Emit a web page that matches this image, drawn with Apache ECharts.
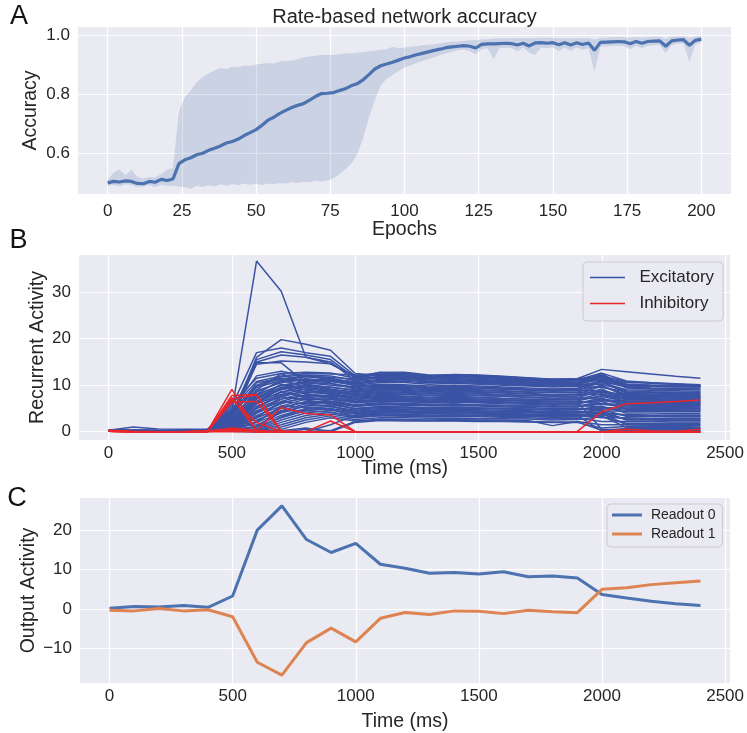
<!DOCTYPE html>
<html><head><meta charset="utf-8">
<script src="https://cdn.jsdelivr.net/npm/echarts@6/dist/echarts.min.js"></script>
<style>html,body{margin:0;padding:0;background:#fff}#c{width:747px;height:733px}</style>
</head><body><div id="c"></div>
<script>
// ---------- Panel A data (epochs, mean accuracy, band) ----------
const epochs = [0,2,4,6,8,10,12,14,16,18,20,22,24,26,28,30,32,34,36,38,40,42,44,46,48,50,52,54,56,58,60,62,64,66,68,70,72,74,76,78,80,82,84,86,88,90,92,94,96,98,100,102,104,106,108,110,112,114,116,118,120,122,124,126,128,130,132,134,136,138,140,142,144,146,148,150,152,154,156,158,160,162,164,166,168,170,172,174,176,178,180,182,184,186,188,190,192,194,196,198,200];
const accMean = [0.500,0.505,0.503,0.507,0.505,0.498,0.497,0.505,0.502,0.512,0.508,0.513,
  0.565,0.578,0.585,0.595,0.600,0.610,0.617,0.625,0.635,0.640,0.648,0.660,0.670,
  0.680,0.695,0.712,0.722,0.735,0.745,0.755,0.762,0.768,0.780,0.792,0.802,0.803,
  0.805,0.812,0.818,0.828,0.835,0.848,0.866,0.885,0.896,0.902,0.908,0.915,0.922,
  0.927,0.933,0.938,0.943,0.948,0.952,0.957,0.960,0.962,0.964,0.962,0.956,
  0.968,0.970,0.970,0.971,0.972,0.971,0.966,0.972,0.963,0.973,0.974,0.972,0.974,
  0.967,0.974,0.966,0.974,0.968,0.973,0.948,0.975,0.976,0.977,0.978,0.977,0.970,
  0.978,0.972,0.978,0.979,0.980,0.962,0.980,0.983,0.984,0.965,0.982,0.986];
const accHigh = [0.510,0.535,0.545,0.525,0.545,0.520,0.515,0.520,0.518,0.530,0.545,0.550,
  0.740,0.790,0.812,0.840,0.858,0.870,0.880,0.888,0.885,0.893,0.892,0.897,0.895,
  0.900,0.903,0.905,0.904,0.910,0.912,0.913,0.918,0.925,0.927,0.930,0.932,0.933,
  0.932,0.935,0.937,0.938,0.940,0.942,0.945,0.947,0.950,0.952,0.960,0.955,0.958,
  0.960,0.962,0.965,0.967,0.968,0.972,0.975,0.978,0.978,0.980,0.982,0.983,
  0.985,0.986,0.988,0.988,0.990,0.988,0.990,0.990,0.989,0.990,0.991,0.990,0.991,
  0.988,0.990,0.987,0.990,0.989,0.990,0.985,0.990,0.991,0.992,0.993,0.992,0.990,
  0.993,0.991,0.993,0.994,0.994,0.987,0.995,0.995,0.996,0.990,0.995,0.996];
const accLow = [0.490,0.493,0.488,0.495,0.492,0.485,0.488,0.492,0.486,0.494,0.490,0.490,
  0.488,0.485,0.480,0.490,0.486,0.492,0.488,0.495,0.490,0.496,0.492,0.498,0.494,
  0.497,0.493,0.498,0.495,0.500,0.497,0.502,0.500,0.504,0.502,0.507,0.505,0.508,
  0.515,0.528,0.545,0.565,0.595,0.650,0.720,0.780,0.830,0.852,0.865,0.878,0.890,
  0.897,0.905,0.912,0.918,0.925,0.932,0.937,0.943,0.948,0.951,0.945,0.935,
  0.952,0.955,0.918,0.955,0.957,0.956,0.945,0.958,0.940,0.932,0.958,0.955,0.958,
  0.945,0.958,0.946,0.958,0.950,0.955,0.876,0.960,0.962,0.963,0.964,0.962,0.952,
  0.964,0.955,0.964,0.965,0.966,0.938,0.966,0.970,0.971,0.910,0.968,0.975];

// ---------- Panel B / C time base ----------
const timeMs = [0,100,200,300,400,500,600,700,800,900,1000,1100,1200,1300,1400,1500,1600,1700,1800,1900,2000,2100,2200,2300,2400];

// ---------- Panel B: excitatory units ----------
const excitatory = [
 [0.2,0.3,0.2,0.2,0.3,4.5,36.7,30.2,16.0,14.6,11.8,12.4,12.6,12.0,12.3,12.2,11.9,11.6,11.3,11.4,13.4,12.9,12.4,11.9,11.5],
 [0.1,0.2,0.1,0.1,0.2,3.0,16.0,19.8,18.8,17.5,12.5,12.1,12.3,12.0,12.1,11.9,11.6,11.3,11.0,11.1,12.6,10.9,10.5,10.3,10.1],
 [0.3,0.2,0.2,0.2,0.4,5.5,17.0,18.0,17.0,16.2,12.0,12.7,12.8,12.2,12.2,12.0,11.8,11.5,11.3,11.3,11.6,10.6,10.4,10.2,10.0],
 [0.2,0.1,0.1,0.2,0.3,4.0,15.5,17.2,16.5,15.5,11.5,12.3,12.0,11.6,11.8,11.6,11.2,10.9,10.8,10.6,12.0,10.8,10.5,10.2,9.9],
 [0.2,0.2,0.1,0.1,0.2,3.5,15.0,16.5,16.0,15.0,11.0,11.8,11.6,11.3,11.2,11.0,10.8,10.5,10.3,10.2,11.2,10.0,9.9,9.8,9.7],
 [0.1,0.1,0.1,0.1,0.2,2.5,14.8,14.8,10.5,11.0,10.2,11.0,11.2,10.8,10.9,10.6,10.4,10.1,9.9,9.8,10.8,9.6,9.4,9.3,9.2],
 [0.2,0.2,0.2,0.1,0.2,3.0,14.5,15.2,15.0,14.6,12.0,11.4,11.5,11.1,11.3,11.1,10.9,10.7,10.5,10.5,11.4,10.2,10.0,9.9,9.8],
 [0.3,0.4,0.3,0.2,0.4,6.0,11.5,12.5,12.8,12.6,11.5,12.8,12.7,12.0,12.2,12.1,11.8,11.5,11.2,11.4,11.8,10.2,10.0,10.0,10.0],
 [0.2,0.3,0.2,0.2,0.3,5.0,10.8,12.0,12.5,12.4,12.2,12.3,12.2,11.8,11.9,11.7,11.5,11.1,10.9,11.0,11.0,9.8,9.7,9.6,9.6],
 [0.3,0.2,0.2,0.1,0.3,4.5,10.0,11.8,12.2,12.0,11.0,11.6,11.7,11.2,11.4,11.2,11.0,10.6,10.4,10.5,12.5,9.5,9.3,9.2,9.1],
 [0.2,0.2,0.1,0.1,0.2,3.8,9.5,11.0,11.8,11.5,10.5,11.0,11.2,10.8,10.9,10.7,10.5,10.2,10.0,10.1,10.5,9.0,8.9,8.8,8.7],
 [0.1,0.2,0.1,0.1,0.3,4.2,8.8,10.5,11.2,10.8,10.0,10.6,10.6,10.2,10.4,10.2,10.0,9.8,9.6,9.7,9.5,8.6,8.5,8.4,8.3],
 [0.3,1.0,0.6,0.5,0.5,3.5,8.0,10.0,10.8,11.5,9.8,10.2,10.1,9.8,10.0,9.8,9.6,9.4,9.2,9.3,11.0,8.2,8.1,8.0,8.0],
 [0.2,0.3,0.2,0.2,0.3,3.0,7.5,9.5,10.5,10.0,9.5,9.8,9.7,9.4,9.6,9.4,9.2,9.0,8.8,8.9,8.8,7.8,7.7,7.7,7.6],
 [0.2,0.2,0.1,0.1,0.2,2.8,7.0,9.0,10.2,9.5,9.0,9.4,9.3,9.0,9.2,9.0,8.8,8.6,8.4,8.5,10.0,7.5,7.4,7.3,7.3],
 [0.1,0.1,0.1,0.1,0.2,2.5,6.5,8.5,9.8,9.0,8.6,9.0,8.9,8.6,8.8,8.6,8.4,8.2,8.0,8.1,8.0,7.2,7.1,7.0,7.0],
 [0.3,0.3,0.2,0.2,0.3,2.2,6.0,8.0,9.2,8.8,8.2,8.6,8.5,8.2,8.4,8.2,8.0,7.8,7.6,7.7,9.2,6.8,6.8,6.7,6.7],
 [0.2,0.2,0.2,0.1,0.2,2.0,5.5,7.5,8.8,8.5,7.8,8.2,8.1,7.8,8.0,7.8,7.6,7.4,7.2,7.3,7.0,6.5,6.4,6.4,6.3],
 [0.1,0.2,0.1,0.1,0.2,1.8,5.0,7.0,8.4,8.2,7.4,7.8,7.7,7.4,7.6,7.4,7.2,7.0,6.8,6.9,8.2,6.2,6.1,6.1,6.0],
 [0.3,0.2,0.2,0.1,0.3,1.5,4.5,6.5,8.0,7.8,7.0,7.4,7.3,7.0,7.2,7.0,6.8,6.6,6.5,6.5,6.0,5.8,5.8,5.7,5.7],
 [0.2,0.2,0.1,0.1,0.2,1.2,4.0,6.0,7.5,7.4,6.6,7.0,6.9,6.6,6.8,6.6,6.4,6.2,6.1,6.1,7.2,5.5,5.4,5.4,5.3],
 [0.1,0.1,0.1,0.1,0.2,1.0,3.5,5.5,7.0,7.0,6.2,6.6,6.5,6.2,6.4,6.2,6.0,5.9,5.7,5.8,5.2,5.1,5.1,5.0,5.0],
 [0.2,0.2,0.1,0.1,0.2,0.8,3.0,5.0,6.5,6.6,5.8,6.2,6.1,5.9,6.0,5.8,5.7,5.5,5.4,5.4,6.5,4.8,4.7,4.7,4.6],
 [0.3,0.3,0.2,0.2,0.3,2.0,2.5,4.5,6.0,6.2,5.4,5.8,5.7,5.5,5.6,5.5,5.3,5.2,5.0,5.1,4.5,4.4,4.4,4.3,4.3],
 [0.2,0.2,0.1,0.1,0.2,1.5,2.0,4.0,5.5,5.8,5.0,5.4,5.3,5.1,5.2,5.1,5.0,4.8,4.7,4.7,5.5,4.0,4.0,3.9,3.9],
 [0.1,0.1,0.1,0.1,0.1,1.0,1.5,3.5,5.0,5.4,4.6,5.0,4.9,4.7,4.8,4.7,4.6,4.5,4.3,4.4,3.8,3.7,3.6,3.6,3.6],
 [0.2,0.2,0.1,0.1,0.2,0.5,1.0,3.0,4.5,5.0,4.2,4.6,4.5,4.3,4.4,4.3,4.2,4.1,4.0,4.0,4.8,3.3,3.3,3.2,3.2],
 [0.1,0.1,0.1,0.0,0.1,0.3,0.5,2.5,4.0,4.6,3.8,4.2,4.1,4.0,4.0,3.9,3.8,3.7,3.6,3.6,3.0,3.0,2.9,2.9,2.9],
 [0.2,0.2,0.1,0.1,0.2,0.4,0.3,2.0,3.5,4.2,3.4,3.8,3.7,3.6,3.6,3.5,3.5,3.4,3.2,3.3,4.0,2.6,2.6,2.5,2.5],
 [0.1,0.1,0.0,0.0,0.1,0.2,0.2,1.5,3.0,3.8,3.0,3.4,3.3,3.2,3.2,3.2,3.1,3.0,2.8,2.9,2.2,2.2,2.2,2.1,2.1],
 [0.2,0.1,0.1,0.1,0.2,0.3,0.1,1.0,2.5,3.4,2.6,3.0,3.0,2.9,2.9,2.8,2.8,2.7,2.5,2.6,3.2,1.8,1.8,1.8,1.8],
 [0.1,0.1,0.0,0.0,0.1,0.2,0.0,0.5,2.0,3.0,2.3,2.7,2.6,2.5,2.6,2.5,2.5,2.4,1.3,2.2,1.5,1.5,1.4,1.4,1.4],
 [0.1,0.1,0.0,0.0,0.1,0.1,0.0,0.2,0.8,0.0,2.0,2.4,2.3,2.3,2.3,2.2,2.2,2.1,2.0,2.0,0.8,1.1,1.1,1.1,1.0],
 [0.1,0.1,0.0,0.0,0.1,0.1,0.0,0.0,0.5,0.2,2.2,2.5,2.5,2.4,2.4,2.4,2.3,2.2,2.1,2.1,0.3,0.7,0.7,0.7,0.7],
 [0.1,0.1,0.0,0.0,0.1,0.6,0.2,0.0,0.0,1.5,3.5,4.0,4.0,3.9,3.8,3.8,3.7,3.6,3.5,3.5,0.1,0.4,0.4,0.4,0.4],
 [0.2,0.2,0.1,0.1,0.2,1.8,6.5,9.2,9.6,8.5,6.5,6.8,6.9,6.8,6.9,6.8,6.7,6.6,6.5,6.5,0.5,0.2,0.2,0.2,0.2],
 [0.2,0.3,0.2,0.2,0.3,4.8,12.0,13.0,12.0,11.2,10.8,11.2,11.1,10.8,10.9,10.8,10.6,10.4,10.2,10.3,11.8,9.9,9.8,9.7,9.6],
 [0.2,0.2,0.1,0.1,0.2,3.2,10.5,11.5,11.0,10.5,9.2,9.6,9.5,9.3,9.4,9.3,9.1,8.9,8.7,8.8,10.8,8.4,8.3,8.2,8.2],
 [0.1,0.2,0.1,0.1,0.2,2.6,9.0,12.5,10.2,9.2,8.4,8.8,8.7,8.5,8.6,8.5,8.3,8.1,7.9,8.0,9.8,7.9,7.8,7.7,7.7],
 [0.2,0.2,0.1,0.1,0.2,2.0,8.0,11.2,9.5,8.8,7.6,8.0,8.0,7.8,7.9,7.8,7.6,7.4,7.2,7.3,8.8,7.4,7.3,7.2,7.2],
 [0.1,0.1,0.1,0.1,0.2,1.6,7.0,10.2,9.0,8.0,6.9,7.2,7.2,7.0,7.1,7.0,6.8,6.7,6.5,6.6,7.8,6.9,6.8,6.7,6.7],
 [0.2,0.2,0.1,0.1,0.2,1.2,6.0,9.6,8.2,7.2,6.2,6.5,6.5,6.3,6.4,6.3,6.2,6.1,5.9,6.0,6.8,6.3,6.2,6.2,6.1],
 [0.1,0.1,0.1,0.1,0.1,0.8,5.0,8.5,7.5,6.5,5.6,5.9,5.9,5.7,5.8,5.7,5.6,5.5,5.3,5.4,6.0,5.7,5.6,5.6,5.5],
 [0.1,0.1,0.1,0.0,0.1,0.5,4.0,7.5,6.8,6.0,5.0,5.3,5.3,5.1,5.2,5.1,5.0,4.9,4.8,4.8,5.2,5.0,5.0,4.9,4.9],
 [0.1,0.1,0.0,0.0,0.1,0.3,3.0,6.5,6.0,5.4,4.4,4.7,4.7,4.6,4.6,4.5,4.4,4.4,4.2,4.3,4.5,2.5,2.5,2.4,2.4],
 [0.1,0.1,0.0,0.0,0.1,0.2,2.0,5.5,5.2,4.8,3.8,4.1,4.1,4.0,4.0,3.9,3.9,3.8,3.7,3.7,3.9,1.5,1.5,1.5,1.5],
 [0.1,0.1,0.0,0.0,0.1,0.2,1.0,4.5,4.5,4.2,3.2,3.5,3.5,3.4,3.4,3.4,3.3,3.3,3.1,3.2,3.4,0.9,0.9,0.9,0.9],
 [0.2,0.2,0.1,0.1,0.2,3.6,9.8,11.4,11.9,11.7,11.3,11.9,11.8,11.5,11.6,11.5,11.3,11.0,10.8,10.9,12.2,9.4,9.2,9.1,9.0],
 [0.1,0.2,0.1,0.1,0.2,2.9,8.5,10.8,11.4,11.0,10.4,10.8,10.8,10.5,10.6,10.4,10.2,10.0,9.9,9.9,10.2,8.8,8.6,8.5,8.5],
 [0.2,0.1,0.1,0.1,0.2,2.4,7.8,10.0,10.6,10.3,9.6,10.0,9.9,9.6,9.7,9.6,9.4,9.2,9.1,9.1,9.8,8.0,7.9,7.8,7.8],
 [0.1,0.1,0.1,0.1,0.1,2.0,7.2,9.3,9.9,9.6,8.8,9.1,9.1,8.8,8.9,8.8,8.7,8.5,8.4,8.4,8.6,7.6,7.5,7.4,7.4],
 [0.2,0.2,0.1,0.1,0.2,1.6,6.2,8.6,9.2,8.9,8.0,8.4,8.3,8.1,8.2,8.1,7.9,7.8,7.7,7.7,8.5,7.0,6.9,6.8,6.8],
 [0.1,0.1,0.1,0.1,0.2,1.3,5.2,7.8,8.6,8.2,7.2,7.6,7.5,7.3,7.4,7.3,7.1,7.0,6.9,6.9,7.5,6.6,6.5,6.5,6.4],
 [0.2,0.2,0.1,0.1,0.2,1.0,4.2,7.0,7.8,7.6,6.4,6.8,6.7,6.5,6.6,6.5,6.4,6.3,6.1,6.2,6.7,6.0,5.9,5.9,5.8],
 [0.1,0.1,0.1,0.0,0.1,0.7,3.2,6.2,7.2,7.0,5.6,6.0,5.9,5.8,5.8,5.7,5.6,5.5,5.4,5.4,5.9,5.3,5.2,5.2,5.1],
 [0.1,0.1,0.0,0.0,0.1,0.4,2.2,5.2,6.4,6.3,4.8,5.2,5.1,5.0,5.0,5.0,4.9,4.8,4.6,4.7,5.0,4.6,4.5,4.5,4.5],
 [0.1,0.1,0.0,0.0,0.1,0.2,1.2,4.2,5.6,5.6,4.0,4.4,4.4,4.3,4.3,4.2,4.1,4.1,3.9,4.0,4.2,3.5,3.4,3.4,3.4],
 [0.1,0.1,0.0,0.0,0.1,0.1,0.6,3.2,4.8,5.0,3.2,3.6,3.6,3.5,3.5,3.5,3.4,3.3,3.2,3.2,3.6,2.8,2.7,2.7,2.7]
];
// ---------- Panel B: inhibitory units ----------
const inhibitory = [
 [0.2,0.0,0.0,0.0,0.0,9.1,0.1,0.0,0.0,0.0,0.0,0.0,0.0,0.0,0.0,0.0,0.0,0.0,0.0,0.0,0.0,0.0,0.0,0.0,0.0],
 [0.1,0.0,0.0,0.0,0.0,7.8,8.0,0.0,0.0,0.0,0.0,0.0,0.0,0.0,0.0,0.0,0.0,0.0,0.0,0.0,0.0,0.0,0.0,0.0,0.0],
 [0.1,0.0,0.0,0.0,0.0,7.0,7.9,0.1,0.0,0.0,0.0,0.0,0.0,0.0,0.0,0.0,0.0,0.0,0.0,0.0,0.0,0.0,0.0,0.0,0.0],
 [0.1,0.0,0.0,0.0,0.1,6.4,6.5,0.2,0.0,0.0,0.0,0.0,0.0,0.0,0.0,0.0,0.0,0.0,0.0,0.0,0.0,0.0,0.0,0.0,0.0],
 [0.1,0.0,0.0,0.0,0.1,7.3,0.2,5.2,3.9,3.6,0.0,0.0,0.0,0.0,0.0,0.0,0.0,0.0,0.0,0.0,0.0,0.0,0.0,0.0,0.0],
 [0.1,0.0,0.0,0.0,0.0,0.5,0.0,0.0,0.0,2.3,0.0,0.0,0.0,0.0,0.0,0.0,0.0,0.0,0.0,0.0,0.0,0.0,0.0,0.0,0.0],
 [0.1,0.0,0.0,0.0,0.0,6.8,2.0,0.0,0.0,0.0,0.0,0.0,0.0,0.0,0.0,0.0,0.0,0.0,0.0,0.0,0.0,0.0,0.0,0.0,0.0],
 [0.3,0.1,0.0,0.0,0.2,0.3,0.0,0.0,0.0,0.0,0.0,0.0,0.0,0.0,0.0,0.0,0.0,0.0,0.0,0.0,0.0,0.0,0.0,0.0,0.0],
 [0.1,0.0,0.0,0.0,0.0,0.0,0.0,0.0,0.0,0.0,0.0,0.0,0.0,0.0,0.0,0.0,0.0,0.0,0.0,0.0,0.0,0.5,0.2,0.1,0.5],
 [0.2,0.0,0.0,0.0,0.1,0.8,0.3,0.0,0.0,0.0,0.0,0.0,0.0,0.0,0.0,0.0,0.0,0.0,0.0,0.0,4.3,6.0,6.2,6.5,6.8]
];

// ---------- Panel C: readouts ----------
const readout0 = [0.2,0.6,0.5,0.85,0.4,3.3,20.1,26.3,17.7,14.4,16.7,11.4,10.4,9.1,9.3,8.9,9.5,8.2,8.4,7.9,3.7,2.8,1.95,1.3,0.85];
const readout1 = [-0.35,-0.5,0.1,-0.5,-0.2,-2.0,-13.6,-16.9,-8.6,-4.9,-8.4,-2.4,-0.9,-1.4,-0.5,-0.6,-1.2,-0.35,-0.7,-0.95,5.0,5.4,6.2,6.7,7.1];

// ---------- styling ----------
const FONT = '"Liberation Sans", Arial, sans-serif';
const TXT = '#262626';
const BG = '#EAEAF2';
const EXC = '#3A53A4';
const INH = '#E8262B';

function xAxisCfg(grid, min, max, step, name, margin, nameGap) {
  return {
    type: 'value', gridIndex: grid, min: min, max: max,
    minInterval: step, maxInterval: step, splitNumber: 5,
    axisLine: {show: false}, axisTick: {show: false},
    axisLabel: {fontSize: 17, color: TXT, fontFamily: FONT, margin: margin,
                showMinLabel: false, showMaxLabel: false, formatter: v => String(v)},
    splitLine: {show: true, showMinLine: false, showMaxLine: false,
                lineStyle: {color: '#ffffff', width: 1.2}},
    name: name, nameLocation: 'middle', nameGap: nameGap, nameMoveOverlap: false,
    nameTextStyle: {fontSize: 19.5, color: TXT, fontFamily: FONT}
  };
}
function yAxisCfg(grid, min, max, step, name, nameGap, fmt) {
  return {
    type: 'value', gridIndex: grid, min: min, max: max,
    minInterval: step, maxInterval: step, splitNumber: 5,
    axisLine: {show: false}, axisTick: {show: false},
    axisLabel: {fontSize: 17, color: TXT, fontFamily: FONT, margin: 8,
                showMinLabel: false, showMaxLabel: false, formatter: fmt},
    splitLine: {show: true, showMinLine: false, showMaxLine: false,
                lineStyle: {color: '#ffffff', width: 1.2}},
    name: name, nameLocation: 'middle', nameGap: nameGap, nameMoveOverlap: false,
    nameTextStyle: {fontSize: 19.5, color: TXT, fontFamily: FONT}
  };
}
const minusFmt = v => (v < 0 ? '\u2212' : '') + Math.abs(v);

const series = [];
// Panel A band: one polygon through the library's coordinate system
series.push({type: 'custom', xAxisIndex: 0, yAxisIndex: 0, silent: true, z: 1,
  data: epochs.map((e, i) => [e, accLow[i], accHigh[i]]),
  encode: {x: 0, y: [1, 2]},
  renderItem: function (params, api) {
    if (params.dataIndex !== 0) return null;
    const pts = [];
    for (let i = 0; i < epochs.length; i++) pts.push(api.coord([epochs[i], accHigh[i]]));
    for (let i = epochs.length - 1; i >= 0; i--) pts.push(api.coord([epochs[i], accLow[i]]));
    return {type: 'polygon', shape: {points: pts}, style: {fill: 'rgba(76,114,176,0.2)'}};
  }
});
series.push({type: 'line', xAxisIndex: 0, yAxisIndex: 0, symbol: 'none', silent: true,
  data: epochs.map((e, i) => [e, accMean[i]]), lineStyle: {color: '#4C72B0', width: 3.2}, z: 3});

// Panel B
excitatory.forEach(arr => series.push({type: 'line', name: 'Excitatory', xAxisIndex: 1, yAxisIndex: 1,
  symbol: 'none', silent: true, data: timeMs.map((t, i) => [t, arr[i]]),
  lineStyle: {color: EXC, width: 1.5}, itemStyle: {color: EXC}, z: 2}));
inhibitory.forEach(arr => series.push({type: 'line', name: 'Inhibitory', xAxisIndex: 1, yAxisIndex: 1,
  symbol: 'none', silent: true, data: timeMs.map((t, i) => [t, arr[i]]),
  lineStyle: {color: INH, width: 1.5}, itemStyle: {color: INH}, z: 3}));

// Panel C
series.push({type: 'line', name: 'Readout 0', xAxisIndex: 2, yAxisIndex: 2, symbol: 'none', silent: true,
  data: timeMs.map((t, i) => [t, readout0[i]]), lineStyle: {color: '#4C72B0', width: 3}, itemStyle: {color: '#4C72B0'}});
series.push({type: 'line', name: 'Readout 1', xAxisIndex: 2, yAxisIndex: 2, symbol: 'none', silent: true,
  data: timeMs.map((t, i) => [t, readout1[i]]), lineStyle: {color: '#DD8452', width: 3}, itemStyle: {color: '#DD8452'}});

const chart = echarts.init(document.getElementById('c'), null, {renderer: 'canvas'});
chart.setOption({
  animation: false,
  backgroundColor: '#ffffff',
  textStyle: {fontFamily: FONT},
  grid: [
    {left: 78, top: 27, width: 653, height: 167, show: true, backgroundColor: BG, borderWidth: 0},
    {left: 79, top: 255, width: 651, height: 185, show: true, backgroundColor: BG, borderWidth: 0},
    {left: 80, top: 498, width: 651, height: 185, show: true, backgroundColor: BG, borderWidth: 0}
  ],
  xAxis: [
    xAxisCfg(0, -10, 210, 25, 'Epochs', 8.5, 25.5),
    xAxisCfg(1, -120, 2520, 500, 'Time (ms)', 4.5, 18.5),
    xAxisCfg(2, -120, 2520, 500, 'Time (ms)', 4.5, 28.5)
  ],
  yAxis: [
    yAxisCfg(0, 0.4624, 1.027, 0.2, 'Accuracy', 37, v => v.toFixed(1)),
    yAxisCfg(1, -1.79, 38.0, 10, 'Recurrent Activity', 31, v => String(v)),
    yAxisCfg(2, -18.9, 28.3, 10, 'Output Activity', 41, minusFmt)
  ],
  legend: [
    {data: ['Excitatory', 'Inhibitory'], orient: 'vertical', left: 583, top: 262,
     padding: [7, 9, 9, 7], itemGap: 9, itemWidth: 35, itemHeight: 1.6, icon: 'rect',
     formatter: n => '  ' + n, selectedMode: false,
     backgroundColor: BG, borderColor: '#CCCCCC', borderWidth: 1, borderRadius: 4,
     textStyle: {fontSize: 17, color: TXT, fontFamily: FONT}},
    {data: ['Readout 0', 'Readout 1'], orient: 'vertical', left: 607, top: 504,
     padding: [4, 7, 6, 5], itemGap: 5, itemWidth: 30, itemHeight: 3, icon: 'rect',
     formatter: n => ' ' + n, selectedMode: false,
     backgroundColor: BG, borderColor: '#CCCCCC', borderWidth: 1, borderRadius: 4,
     textStyle: {fontSize: 14, color: TXT, fontFamily: FONT}}
  ],
  graphic: [
    {type: 'text', x: 404.5, y: 17, silent: true,
     style: {text: 'Rate-based network accuracy', fill: TXT, fontSize: 20, fontFamily: FONT,
             textAlign: 'center', textVerticalAlign: 'middle', align: 'center', verticalAlign: 'middle'}},
    {type: 'text', x: 19, y: 17, silent: true,
     style: {text: 'A', fill: '#111', fontSize: 27, fontFamily: FONT,
             textAlign: 'center', textVerticalAlign: 'middle', align: 'center', verticalAlign: 'middle'}},
    {type: 'text', x: 18.5, y: 241, silent: true,
     style: {text: 'B', fill: '#111', fontSize: 27, fontFamily: FONT,
             textAlign: 'center', textVerticalAlign: 'middle', align: 'center', verticalAlign: 'middle'}},
    {type: 'text', x: 17, y: 498.5, silent: true,
     style: {text: 'C', fill: '#111', fontSize: 27, fontFamily: FONT,
             textAlign: 'center', textVerticalAlign: 'middle', align: 'center', verticalAlign: 'middle'}}
  ],
  series: series
});
</script>
</body></html>
